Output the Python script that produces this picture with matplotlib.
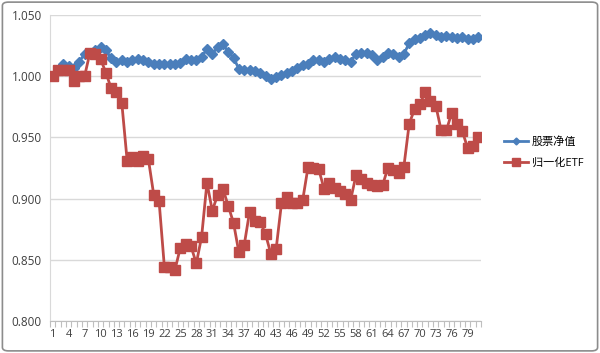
import matplotlib.pyplot as plt
from matplotlib.patches import FancyBboxPatch
from matplotlib.ticker import FixedLocator

plt.rcParams["font.family"] = ["Open Sans", "Noto Sans CJK SC", "DejaVu Sans"]

# values, one per trading day
stock_nav = [
    1.000, 1.005, 1.010, 1.008, 1.007, 1.012, 1.018, 1.019, 1.021, 1.024,
    1.021, 1.015, 1.012, 1.013, 1.012, 1.013, 1.014, 1.013, 1.012, 1.010,
    1.010, 1.010, 1.010, 1.010, 1.011, 1.014, 1.013, 1.013, 1.016, 1.022,
    1.018, 1.024, 1.026, 1.020, 1.015, 1.006, 1.005, 1.005, 1.004, 1.003,
    1.000, 0.998, 0.999, 1.001, 1.003, 1.004, 1.007, 1.009, 1.010, 1.013,
    1.013, 1.012, 1.014, 1.016, 1.014, 1.013, 1.012, 1.018, 1.019, 1.019,
    1.017, 1.013, 1.016, 1.019, 1.018, 1.016, 1.018, 1.027, 1.030, 1.031,
    1.034, 1.035, 1.034, 1.032, 1.033, 1.032, 1.031, 1.032, 1.030, 1.030,
    1.032,
]
etf_norm = [
    1.000, 1.005, 1.005, 1.005, 0.996, 1.000, 1.000, 1.019, 1.018, 1.014,
    1.003, 0.990, 0.987, 0.978, 0.931, 0.934, 0.931, 0.935, 0.932, 0.903,
    0.898, 0.844, 0.844, 0.842, 0.860, 0.863, 0.861, 0.847, 0.869, 0.913,
    0.890, 0.903, 0.908, 0.894, 0.880, 0.856, 0.862, 0.889, 0.882, 0.881,
    0.871, 0.855, 0.859, 0.896, 0.901, 0.896, 0.896, 0.899, 0.926, 0.925,
    0.924, 0.908, 0.913, 0.909, 0.906, 0.904, 0.899, 0.919, 0.916, 0.913,
    0.911, 0.910, 0.911, 0.925, 0.923, 0.921, 0.926, 0.961, 0.973, 0.977,
    0.987, 0.980, 0.976, 0.956, 0.956, 0.970, 0.961, 0.955, 0.941, 0.943,
    0.950,
]
days = list(range(1, len(stock_nav) + 1))
y_ticks = [0.800, 0.850, 0.900, 0.950, 1.000, 1.050]
series_names = ["股票净值", "归一化ETF"]

fig = plt.figure(figsize=(6.0, 3.53), dpi=100)
ax = fig.add_axes([0.0833, 0.0907, 0.7184, 0.8668])

# outer chart border
fig.patches.append(FancyBboxPatch((0.004, 0.006), 0.992, 0.988,
                                  boxstyle="round,pad=0,rounding_size=0.01",
                                  transform=fig.transFigure, fill=False,
                                  edgecolor="#8c8c8c", linewidth=1.2))

ax.plot(days, stock_nav, color="#4a7ebb", linewidth=2, marker="D",
        markersize=5, label=series_names[0], zorder=3)
ax.plot(days, etf_norm, color="#be4b48", linewidth=2, marker="s",
        markersize=7.5, label=series_names[1], zorder=4)

ax.set_xlim(0.5, len(days) + 0.5)
ax.set_ylim(0.8, 1.05)
ax.set_yticks(y_ticks)
ax.set_yticklabels([f"{v:.3f}" for v in y_ticks])
ax.set_xticks(days[::3])
ax.set_xticklabels([str(d) for d in days[::3]])
ax.xaxis.set_minor_locator(FixedLocator([d + 0.5 for d in range(0, len(days) + 1)]))

ax.tick_params(axis="y", length=0, labelsize=8.5, labelcolor="#404040", pad=6)
ax.tick_params(axis="x", which="major", length=0, labelsize=8, labelcolor="#404040", pad=6)
ax.tick_params(axis="x", which="minor", length=4, color="#bfbfbf", width=0.8)

ax.grid(axis="y", color="#d9d9d9", linewidth=1)
ax.set_axisbelow(True)
for side in ["top", "right"]:
    ax.spines[side].set_visible(False)
ax.spines["left"].set_color("#d9d9d9")
ax.spines["bottom"].set_color("#bfbfbf")

ax.legend(loc="center left", bbox_to_anchor=(1.03, 0.55), frameon=False,
          fontsize=8, handlelength=2.2, handletextpad=0.3, labelspacing=0.9,
          markerscale=0.7)

fig.savefig("out.png", dpi=100)
